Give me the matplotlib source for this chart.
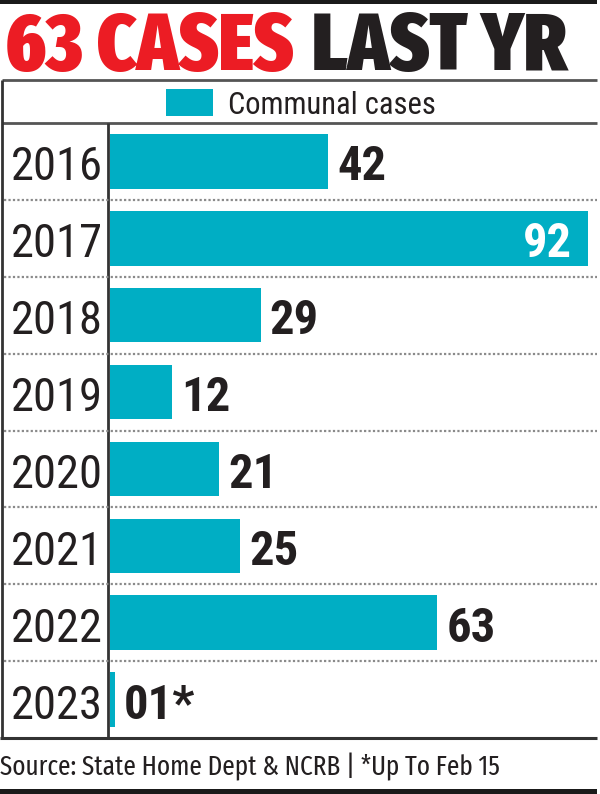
import matplotlib
matplotlib.use("Agg")
import matplotlib.pyplot as plt

years = ["2016", "2017", "2018", "2019", "2020", "2021", "2022", "2023"]
cases = [42, 92, 29, 12, 21, 25, 63, 1]
value_labels = ["42", "92", "29", "12", "21", "25", "63", "01*"]
title_red = "63 CASES"
title_black = "LAST YR"
legend_label = "Communal cases"
source = "Source: State Home Dept & NCRB | *Up To Feb 15"

TEAL = "#00AEC4"
RED = "#EC1C24"
DARK = "#231F20"
COND = "Roboto Condensed"
TITLE_FONT = "Fira Sans Extra Condensed"
SRC_FONT = "Fira Sans Extra Condensed"

W, H = 600, 794
fig = plt.figure(figsize=(W / 100, H / 100), dpi=100)

ov = fig.add_axes([0, 0, 1, 1], zorder=0)
ov.set_xlim(0, W)
ov.set_ylim(H, 0)
ov.axis("off")

ov.add_patch(plt.Rectangle((0, 0), 597, 4, color="#1a1a1a", lw=0))
ov.add_patch(plt.Rectangle((0, 789), 597, 5, color="#1a1a1a", lw=0))

# title
t1 = ov.text(5, 70, title_red, color=RED, fontsize=58.5, fontweight="black",
             family=TITLE_FONT, va="baseline", ha="left")
fig.canvas.draw()
bb = t1.get_window_extent()
ov.text(bb.x1 + 18, 70, title_black, color=DARK, fontsize=58.5, fontweight="black",
        family=TITLE_FONT, va="baseline", ha="left")

top, leg_bot, bot = 80, 123, 738
ov.plot([2, 597], [top, top], color="#555555", lw=2, solid_capstyle="butt")
ov.plot([2, 597], [leg_bot, leg_bot], color="#555555", lw=2, solid_capstyle="butt")
ov.plot([0, 597], [bot, bot], color="#333333", lw=2.2, solid_capstyle="butt")
ov.plot([2, 2], [top, bot], color="#333333", lw=2, solid_capstyle="butt")
ov.plot([108, 108], [leg_bot, bot], color="#333333", lw=2, solid_capstyle="butt")

n = len(years)
rowh = (bot - leg_bot) / n
for k in range(1, n):
    y = leg_bot + k * rowh
    ov.plot([4, 597], [y, y], color="#8a8a8a", lw=1.6, linestyle=(0, (1, 1)))

ov.add_patch(plt.Rectangle((166, 89), 47, 27, color=TEAL, lw=0))
ov.text(228, 114, legend_label, color=DARK, fontsize=22, family=COND,
        va="baseline", ha="left")

# source, fitted to ~500 px wide
src = ov.text(0, 775, source, color=DARK, fontsize=24, family=SRC_FONT,
              va="baseline", ha="left")
fig.canvas.draw()
w = src.get_window_extent().width
src.set_fontsize(24 * 500 / w)

ax = fig.add_axes([110 / W, 1 - bot / H, 488 / W, (bot - leg_bot) / H], zorder=1)
ax.patch.set_alpha(0)
xmax = 92 * 488 / 478
ax.set_xlim(0, xmax)
ax.set_ylim(n - 0.5, -0.5)
ax.barh(range(n), cases, height=0.71, color=TEAL, lw=0)
ax.axis("off")

for i, (v, lab, yr) in enumerate(zip(cases, value_labels, years)):
    if v == max(cases):
        ax.annotate(lab, (v, i), xytext=(-16 * 0.72, -19 * 0.72), textcoords="offset points",
                    ha="right", va="baseline", color="white", fontsize=35,
                    fontweight="bold", family=COND)
    else:
        ax.annotate(lab, (v, i), xytext=(9 * 0.72, -19 * 0.72), textcoords="offset points",
                    ha="left", va="baseline", color=DARK, fontsize=35,
                    fontweight="bold", family=COND)
    yc = leg_bot + (i + 0.5) * rowh
    ov.text(57, yc + 19, yr, color=DARK, fontsize=33.5, family=COND,
            va="baseline", ha="center")

fig.savefig("out.png", dpi=100)
